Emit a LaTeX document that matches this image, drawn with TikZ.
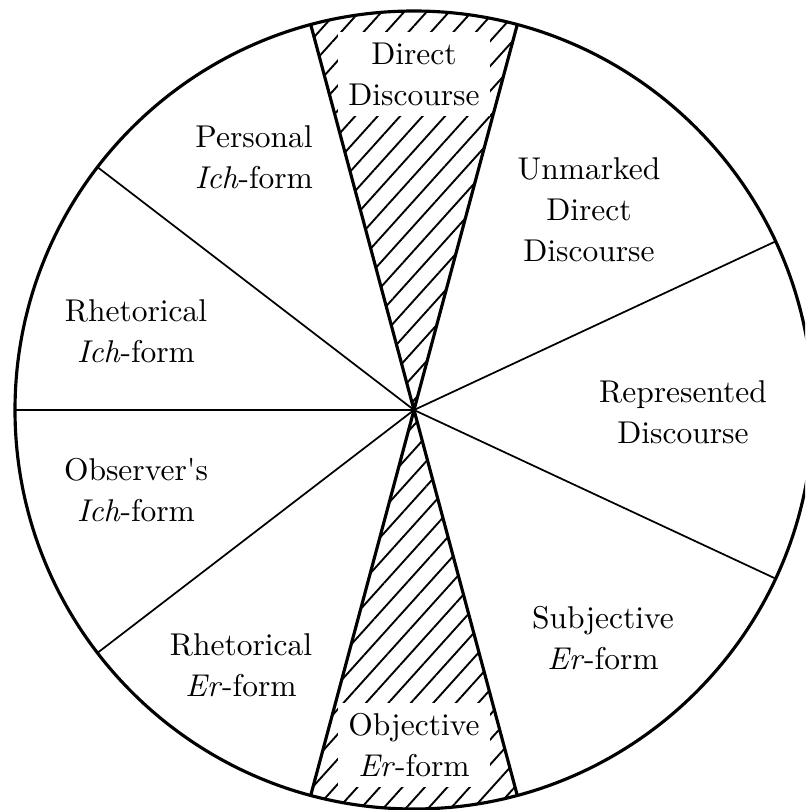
\documentclass[tikz,border=0pt]{standalone}
\usetikzlibrary{patterns.meta}
\begin{document}
\begin{tikzpicture}[x=0.3175pt,y=0.3175pt,
  rim/.style={line width=1pt},
  spoke/.style={line width=0.55pt},
  hatch/.style={pattern={Lines[angle=48,distance=5.3pt,line width=0.6pt]}},
  lbl/.style={align=center,font=\fontsize{10}{13}\selectfont},
  wlbl/.style={lbl,fill=white}]
\useasboundingbox (0,0) rectangle (805,810);
\clip (0,0) rectangle (805,810);
\coordinate (O) at (414,400);
% hatched wedges
\fill[hatch] (O) -- ++(75:399) arc[start angle=75,end angle=105,radius=399] -- cycle;
\fill[hatch] (O) -- ++(255:399) arc[start angle=255,end angle=285,radius=399] -- cycle;
% thin spokes
\draw[spoke] (O) -- ++(25:399) coordinate (s1);
\draw[spoke] (O) -- ++(-25:399) coordinate (s2);
\draw[spoke] (O) -- ++(142.5:399) coordinate (s3);
\draw[spoke] (O) -- ++(180:399) coordinate (s4);
\draw[spoke] (O) -- ++(217.5:399) coordinate (s5);
% thick wedge edges
\draw[rim] (O) -- ++(75:399) coordinate (w1);
\draw[rim] (O) -- ++(105:399) coordinate (w2);
\draw[rim] (O) -- ++(255:399) coordinate (w3);
\draw[rim] (O) -- ++(285:399) coordinate (w4);
% circle
\draw[rim] (O) circle[radius=399];
% labels
\node[wlbl] (dd) at (414,736) {Direct\\Discourse};
\node[wlbl] (obj) at (414,65) {Objective\\\textit{Er}-form};
\node[lbl] (pers) at (254,653) {Personal\\\textit{Ich}-form};
\node[lbl] (unm) at (589,600) {Unmarked\\Direct\\Discourse};
\node[lbl] (rhi) at (136,479) {Rhetorical\\\textit{Ich}-form};
\node[lbl] (rep) at (683,398) {Represented\\Discourse};
\node[lbl] (obs) at (136,320) {Observer\textquotesingle s\\\textit{Ich}-form};
\node[lbl] (subj) at (603,172) {Subjective\\\textit{Er}-form};
\node[lbl] (rhe) at (241,145) {Rhetorical\\\textit{Er}-form};
\end{tikzpicture}
\end{document}
